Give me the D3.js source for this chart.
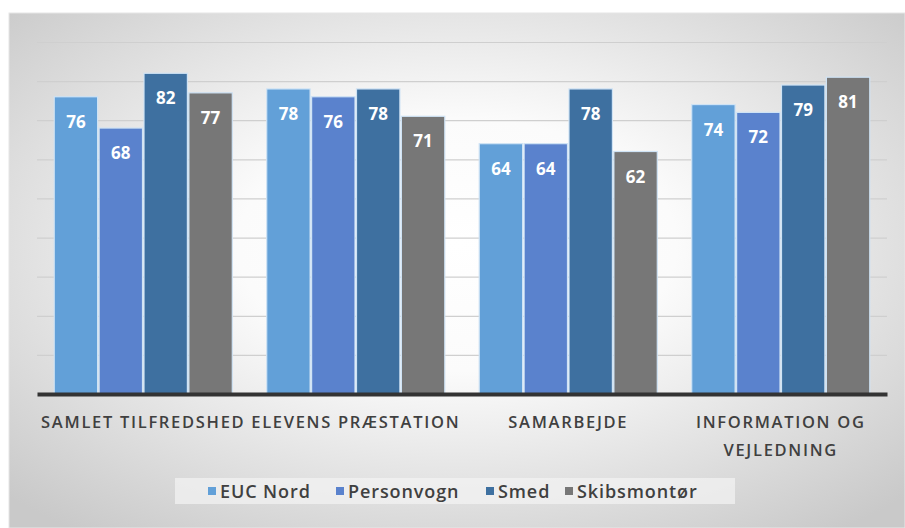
<!DOCTYPE html>
<html><head><meta charset="utf-8">
<script src="https://cdnjs.cloudflare.com/ajax/libs/d3/7.8.5/d3.min.js"></script>
<style>html,body{margin:0;padding:0;background:#fff;}svg{display:block;}</style>
</head><body>
<script>
const categories = [["SAMLET TILFREDSHED"], ["ELEVENS PRÆSTATION"], ["SAMARBEJDE"], ["INFORMATION OG", "VEJLEDNING"]];
const seriesNames = ["EUC Nord", "Personvogn", "Smed", "Skibsmontør"];
const eucNord = [76, 78, 64, 74];
const personvogn = [68, 76, 64, 72];
const smed = [82, 78, 78, 79];
const skibsmontor = [77, 71, 62, 81];
const seriesValues = [eucNord, personvogn, smed, skibsmontor];
const colors = ["#62a0d8", "#5a82cd", "#3e70a0", "#777777"];
const gridTicks = [10, 20, 30, 40, 50, 60, 70, 80, 90];

const W = 905, H = 528;
const svg = d3.select("body").append("svg").attr("width", W).attr("height", H);
const defs = svg.append("defs");
const rg = defs.append("radialGradient").attr("id", "bg")
  .attr("cx", "50%").attr("cy", "45%").attr("r", "70%");
rg.append("stop").attr("offset", "0%").attr("stop-color", "#ffffff");
rg.append("stop").attr("offset", "35%").attr("stop-color", "#fbfbfb");
rg.append("stop").attr("offset", "100%").attr("stop-color", "#c9c9c9");

svg.append("rect").attr("x", 9).attr("y", 13).attr("width", W - 9).attr("height", H - 13)
  .attr("fill", "url(#bg)").attr("stroke", "#e6e6e6");

const x0 = d3.scaleBand().domain(d3.range(categories.length)).range([37, 887]).paddingInner(0.155).paddingOuter(0.0775);
const x1 = d3.scaleBand().domain(d3.range(seriesNames.length)).range([0, x0.bandwidth()]);
const y = d3.scaleLinear().domain([0, 90]).range([394, 42]);

// gridlines
const grid = svg.append("g")
  .attr("transform", "translate(37,0)")
  .call(d3.axisLeft(y).tickValues(gridTicks).tickSize(-(887 - 37)).tickFormat(""));
grid.select(".domain").remove();
grid.selectAll("line").attr("stroke", "#cfcfcf").attr("stroke-width", 1.2);

// bars
const groups = svg.append("g").selectAll("g").data(categories).join("g")
  .attr("transform", (d, i) => `translate(${x0(i)},0)`);
groups.each(function (cat, ci) {
  const g = d3.select(this);
  const data = seriesValues.map((vals, si) => ({ si, v: vals[ci] }));
  g.selectAll("rect").data(data).join("rect")
    .attr("x", d => x1(d.si) + 0.75)
    .attr("y", d => y(d.v))
    .attr("width", x1.bandwidth() - 1.5)
    .attr("height", d => y(0) - y(d.v))
    .attr("fill", d => colors[d.si])
    .attr("stroke", "#cfe3f5").attr("stroke-width", 1.2);
  g.selectAll("text").data(data).join("text")
    .attr("x", d => x1(d.si) + x1.bandwidth() / 2)
    .attr("y", d => y(d.v) + 31)
    .attr("text-anchor", "middle")
    .attr("fill", "#ffffff")
    .attr("font-family", "'Open Sans', sans-serif")
    .attr("font-weight", "bold")
    .attr("font-size", 17)
    .text(d => d.v);
});

// baseline axis
const xAxis = svg.append("g").attr("transform", `translate(0,${y(0)})`)
  .call(d3.axisBottom(x0).tickSize(0).tickFormat(""));
xAxis.select(".domain").attr("stroke", "#333333").attr("stroke-width", 4);

// category labels
const lab = svg.append("g").selectAll("text").data(categories).join("text")
  .attr("x", (d, i) => x0(i) + x0.bandwidth() / 2)
  .attr("y", 428)
  .attr("text-anchor", "middle")
  .attr("fill", "#404040")
  .attr("font-family", "'Open Sans', sans-serif")
  .attr("font-weight", "600")
  .attr("font-size", 16.5)
  .attr("letter-spacing", "1.7");
lab.each(function (lines) {
  d3.select(this).selectAll("tspan").data(lines).join("tspan")
    .attr("x", d3.select(this).attr("x"))
    .attr("dy", (d, i) => i === 0 ? 0 : 28)
    .text(d => d);
});

// legend
svg.append("rect").attr("x", 175).attr("y", 478).attr("width", 560).attr("height", 26)
  .attr("fill", "#f4f4f4").attr("opacity", 0.7);
const legendX = [208, 336, 486, 565];
const lg = svg.append("g").selectAll("g").data(seriesNames).join("g")
  .attr("transform", (d, i) => `translate(${legendX[i]},491)`);
lg.append("rect").attr("x", 0).attr("y", -4).attr("width", 8).attr("height", 8)
  .attr("fill", (d, i) => colors[i]);
lg.append("text").attr("x", 12).attr("y", 6.5)
  .attr("fill", "#404040")
  .attr("font-family", "'Open Sans', sans-serif")
  .attr("font-weight", "600")
  .attr("font-size", 18)
  .attr("letter-spacing", "0.9")
  .text(d => d);
</script>
</body></html>
